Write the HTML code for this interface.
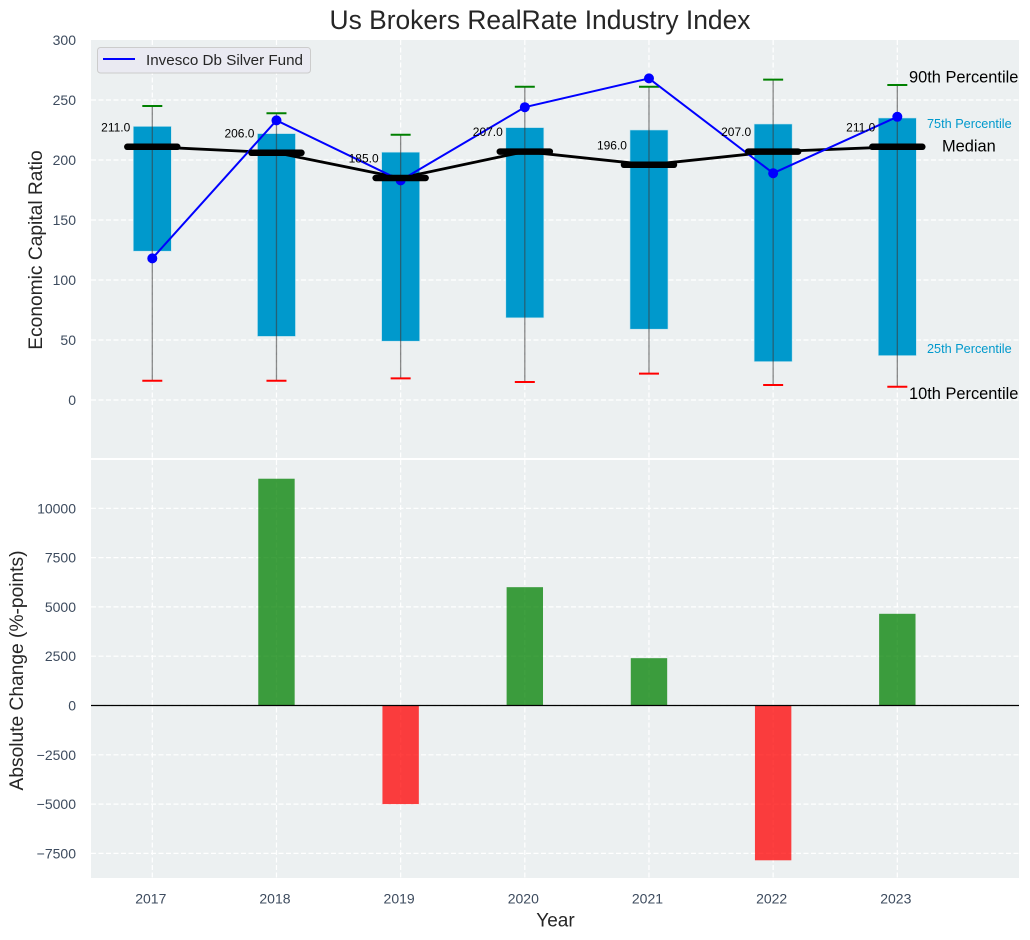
<!DOCTYPE html>
<html>
<head>
<meta charset="utf-8">
<style>
html,body{margin:0;padding:0;background:#fff;}
svg{display:block;font-family:"Liberation Sans",sans-serif;}
</style>
</head>
<body>
<svg id="chart" width="1030" height="940" viewBox="0 0 1030 940" xmlns="http://www.w3.org/2000/svg"></svg>
<script>
const years = ['2017','2018','2019','2020','2021','2022','2023'];
const p10 = [16,16,18,15,22,12.5,11];
const p25 = [124,53,49,68.5,59,32,37];
const medians = [211,206,185,207,196,207,211];
const p75 = [228,222,206.5,227,225,230,235];
const p90 = [245,239,221,261,261,267,262.5];
const fund = [118,233,183,244,268,189,236];
const changes = [0,11500,-5000,6000,2400,-7850,4650];
const topTicks = [0,50,100,150,200,250,300];
const bottomTicks = [-7500,-5000,-2500,0,2500,5000,7500,10000];

const svg = document.getElementById('chart');
const NS = 'http://www.w3.org/2000/svg';
function add(tag, attrs, text){
  const el = document.createElementNS(NS, tag);
  for (const k in attrs) el.setAttribute(k, attrs[k]);
  if (text !== undefined) el.textContent = text;
  svg.appendChild(el);
  return el;
}
function xPos(i){ return 152.3 + i * 124.17; }
function yTop(v){ return 400 - v * 1.2; }
function yBot(v){ return 705.5 - v * 0.01972; }
const L = 91, R = 1019, T1 = 40, B1 = 458, T2 = 460, B2 = 878;
const tickColor = '#3d4b5e';
const textColor = '#262626';

let el;
el = add('rect', {x:L, y:T1, width:R-L, height:B1-T1, fill:'#ecf0f1'});


el = add('rect', {x:L, y:T2, width:R-L, height:B2-T2, fill:'#ecf0f1'});



const gridStyle = {stroke:'#ffffff', 'stroke-width':1.2, 'stroke-dasharray':'5 2.5', fill:'none'};
years.forEach(function(y, i){
  el = add('line', Object.assign({x1:xPos(i), x2:xPos(i), y1:T1, y2:B1}, gridStyle));
  
  
  el = add('line', Object.assign({x1:xPos(i), x2:xPos(i), y1:T2, y2:B2}, gridStyle));
  
  
  el = add('text', {x:xPos(i)-1.5, y:903.5, 'text-anchor':'middle', 'font-size':14, fill:tickColor}, y);
  
  
});
topTicks.forEach(function(t){
  if (t !== 300) {
    el = add('line', Object.assign({x1:L, x2:R, y1:yTop(t), y2:yTop(t)}, gridStyle));
    
    
  }
  el = add('text', {x:76, y:yTop(t)+5, 'text-anchor':'end', 'font-size':14, fill:tickColor}, String(t));
  
  
});
bottomTicks.forEach(function(t){
  el = add('line', Object.assign({x1:L, x2:R, y1:yBot(t), y2:yBot(t)}, gridStyle));
  
  
  el = add('text', {x:76, y:yBot(t)+5, 'text-anchor':'end', 'font-size':14, fill:tickColor}, String(t).replace('-', '\u2212'));
  
  
});

// percentile boxes
years.forEach(function(y, i){
  el = add('rect', {x:xPos(i)-19, y:yTop(p75[i]), width:38, height:yTop(p25[i])-yTop(p75[i]), fill:'#0099cc', stroke:'#bfe3ee', 'stroke-width':0.6});
  
  
});
// whiskers
years.forEach(function(y, i){
  el = add('line', {x1:xPos(i), x2:xPos(i), y1:yTop(p90[i]), y2:yTop(p10[i]), stroke:'#3c3c3c', 'stroke-opacity':0.6, 'stroke-width':1.3});
  
  
  el = add('line', {x1:xPos(i)-10, x2:xPos(i)+10, y1:yTop(p90[i]), y2:yTop(p90[i]), stroke:'#008000', 'stroke-width':2});
  
  
  el = add('line', {x1:xPos(i)-10, x2:xPos(i)+10, y1:yTop(p10[i]), y2:yTop(p10[i]), stroke:'#ff0000', 'stroke-width':2});
  
  
});
// median line
el = add('polyline', {points:medians.map(function(v,i){return xPos(i)+','+yTop(v);}).join(' '), fill:'none', stroke:'#000', 'stroke-width':2.8});


// fund line
el = add('polyline', {points:fund.map(function(v,i){return xPos(i)+','+yTop(v);}).join(' '), fill:'none', stroke:'#0000ff', 'stroke-width':2});


years.forEach(function(y, i){
  el = add('circle', {cx:xPos(i), cy:yTop(fund[i]), r:5, fill:'#0000ff'});
  
  
});
// median caps + labels
years.forEach(function(y, i){
  el = add('line', {x1:xPos(i)-25, x2:xPos(i)+25, y1:yTop(medians[i]), y2:yTop(medians[i]), stroke:'#000', 'stroke-width':6.5, 'stroke-linecap':'round'});
  
  
  el = add('text', {x:xPos(i)-22, y:yTop(medians[i])-15.5, 'text-anchor':'end', 'font-size':12, fill:'#000'}, medians[i].toFixed(1));
  
  
});

// annotations
const last = years.length - 1;
el = add('text', {x:909, y:yTop(p90[last])-2.5, 'font-size':16.4, fill:'#000'}, '90th Percentile');


el = add('text', {x:927, y:yTop(p75[last])+10, 'font-size':12.7, fill:'#0099cc'}, '75th Percentile');


el = add('text', {x:942, y:yTop(medians[last])+4.5, 'font-size':16.4, fill:'#000'}, 'Median');


el = add('text', {x:927, y:yTop(p25[last])-2.5, 'font-size':12.7, fill:'#0099cc'}, '25th Percentile');


el = add('text', {x:909, y:yTop(p10[last])+12, 'font-size':16.4, fill:'#000'}, '10th Percentile');



// change bars
changes.forEach(function(v, i){
  if (v === 0) return;
  const y0 = yBot(Math.max(v,0)), y1 = yBot(Math.min(v,0));
  el = add('rect', {x:xPos(i)-18.2, y:y0, width:36.4, height:y1-y0, fill:v>0?'#008000':'#ff0000', 'fill-opacity':0.75});
  
  
});
el = add('line', {x1:L, x2:R, y1:yBot(0), y2:yBot(0), stroke:'#000', 'stroke-width':1.3});



// legend
el = add('rect', {x:97.5, y:47.5, width:213, height:25.5, rx:3, fill:'#eaeaf2', stroke:'#cccccc', 'stroke-width':1});


el = add('line', {x1:103, x2:135, y1:59, y2:59, stroke:'#0000ff', 'stroke-width':2});


el = add('text', {x:146, y:65, 'font-size':15.2, fill:textColor}, 'Invesco Db Silver Fund');



// titles
el = add('text', {x:540, y:29, 'text-anchor':'middle', 'font-size':26.4, fill:textColor}, 'Us Brokers RealRate Industry Index');


el = add('text', {x:555.5, y:926.7, 'text-anchor':'middle', 'font-size':19, fill:textColor}, 'Year');


el = add('text', {x:0, y:0, 'text-anchor':'middle', 'font-size':19.2, fill:textColor, transform:'translate(42,250) rotate(-90)'}, 'Economic Capital Ratio');


el = add('text', {x:0, y:0, 'text-anchor':'middle', 'font-size':19.2, fill:textColor, transform:'translate(23,670.5) rotate(-90)'}, 'Absolute Change (%-points)');


</script>
</body>
</html>
